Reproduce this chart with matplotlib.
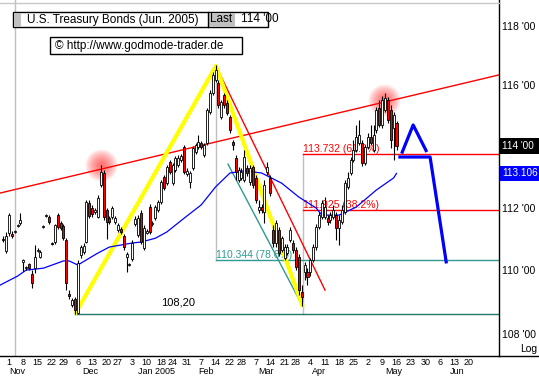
import numpy as np
import pandas as pd
import matplotlib
matplotlib.use("Agg")
import matplotlib.pyplot as plt
from matplotlib.patches import Rectangle
from matplotlib.ticker import NullLocator
from matplotlib import transforms

plt.rcParams['font.family'] = ['Liberation Sans', 'DejaVu Sans']

# trading calendar (CBOT holidays), day 0 = 1 Nov 2004
holidays = ['2004-11-25', '2004-12-24', '2005-01-17', '2005-02-21', '2005-03-25']
cal = pd.bdate_range('2004-10-25', '2005-07-01', freq='C', holidays=holidays)
day0 = cal.get_loc(pd.Timestamp('2004-11-01'))
def pos(d):
    return cal.get_loc(pd.Timestamp(d)) - day0

first_day = '2004-10-28'

# daily candles (T-Bond Jun 2005)
opens = [111.01, 110.62, 111.18, 111.15, 111.22, 111.41, 111.50, 110.27, 110.07, 110.20,
         109.88, 110.07, 110.62, 110.43, 111.38, 111.73, 111.70, 110.88, 110.90, 111.76,
         111.50, 111.41, 110.96, 109.26, 108.91, 109.10, 108.66, 110.49, 110.58, 110.90,
         112.15, 111.99, 111.86, 111.70, 112.73, 113.12, 111.93, 111.66, 111.70, 111.54,
         111.28, 111.31, 111.09, 110.43, 110.17, 110.36, 111.47, 111.12, 111.83, 110.71,
         111.18, 112.02, 111.47, 111.66, 111.93, 112.18, 112.99, 112.79, 113.48, 112.79,
         113.22, 113.38, 113.54, 113.97, 113.09, 112.83, 113.28, 113.81, 113.97, 114.10,
         113.71, 114.10, 115.12, 115.75, 116.18, 116.08, 114.96, 115.68, 115.42, 114.96,
         114.13, 113.61, 112.89, 112.96, 112.89, 113.28, 112.83, 113.32, 112.96, 111.93,
         112.02, 111.86, 113.15, 112.96, 111.28, 110.87, 111.28, 110.65, 110.40, 110.55,
         110.96, 110.87, 110.65, 110.43, 109.32, 109.95, 109.95, 109.95, 110.33, 110.74,
         111.38, 111.70, 111.70, 111.66, 111.60, 111.70, 111.76, 111.34, 111.54, 111.86,
         112.67, 113.12, 113.54, 113.87, 114.10, 114.10, 113.45, 113.97, 114.30, 113.87,
         114.53, 115.25, 114.69, 115.19, 115.52, 115.19, 114.59, 114.76]
highs = [111.09, 111.22, 111.83, 111.25, 111.28, 111.47, 111.83, 110.36, 110.14, 110.23,
         110.01, 110.81, 110.71, 110.65, 111.44, 111.80, 111.76, 110.90, 111.47, 111.83,
         111.57, 111.47, 111.02, 109.38, 109.13, 109.16, 110.33, 110.81, 110.87, 112.25,
         112.25, 112.09, 111.99, 112.41, 113.38, 113.22, 111.99, 111.73, 112.05, 111.73,
         111.50, 111.38, 111.15, 110.58, 110.23, 110.96, 111.73, 111.76, 111.93, 111.44,
         111.31, 112.12, 111.57, 112.09, 112.25, 112.89, 113.06, 113.38, 113.54, 113.45,
         113.67, 113.71, 113.74, 114.03, 113.28, 113.19, 114.00, 114.10, 114.36, 114.17,
         114.10, 115.25, 115.85, 116.45, 116.69, 116.18, 115.52, 115.75, 115.52, 115.02,
         114.20, 113.71, 113.32, 113.28, 113.87, 113.38, 113.38, 113.38, 113.06, 112.25,
         112.12, 112.89, 113.48, 113.06, 111.44, 111.60, 111.38, 111.09, 110.84, 110.84,
         111.38, 110.96, 110.74, 110.52, 109.54, 110.27, 110.07, 110.40, 110.84, 111.47,
         111.86, 112.25, 112.34, 111.76, 111.86, 112.09, 111.86, 111.76, 112.09, 112.89,
         113.15, 113.64, 114.20, 114.69, 114.86, 114.20, 114.03, 114.43, 114.69, 114.69,
         115.29, 115.52, 115.65, 115.75, 115.62, 115.35, 115.12, 114.82]
lows = [110.90, 110.55, 111.09, 111.02, 111.18, 111.38, 111.44, 109.98, 110.01, 110.01,
        109.44, 109.91, 110.58, 110.40, 111.34, 111.70, 111.47, 110.81, 110.84, 111.31,
        111.28, 110.96, 109.38, 109.10, 108.85, 108.63, 108.63, 110.40, 110.52, 110.87,
        111.66, 111.70, 111.80, 111.66, 112.67, 111.60, 110.99, 111.47, 111.63, 111.47,
        111.22, 111.15, 110.65, 109.95, 110.14, 110.30, 111.41, 111.05, 110.84, 110.65,
        111.15, 111.15, 111.41, 111.60, 111.86, 112.12, 112.57, 112.73, 113.09, 112.73,
        113.15, 113.32, 113.48, 113.09, 113.02, 112.63, 113.22, 113.74, 113.91, 113.91,
        113.64, 114.03, 115.05, 115.68, 116.12, 115.25, 114.89, 115.25, 115.02, 114.43,
        113.87, 112.89, 112.83, 112.89, 112.83, 113.02, 112.73, 112.63, 112.15, 111.83,
        111.83, 111.50, 113.06, 112.37, 110.74, 110.74, 110.46, 110.58, 110.33, 110.49,
        110.90, 110.55, 110.01, 109.22, 108.88, 109.70, 109.54, 109.82, 110.27, 110.65,
        111.31, 111.63, 111.63, 111.44, 111.50, 111.63, 110.96, 110.81, 111.47, 111.80,
        112.60, 113.06, 113.48, 113.81, 114.03, 113.35, 113.38, 113.91, 114.03, 113.81,
        114.43, 114.63, 114.59, 115.12, 114.76, 113.94, 113.54, 113.87]
closes = [110.98, 111.09, 111.76, 111.09, 111.25, 111.44, 111.60, 110.33, 110.10, 110.07,
          109.60, 110.43, 110.65, 110.58, 111.41, 111.76, 111.54, 110.85, 111.44, 111.38,
          111.34, 111.02, 109.60, 109.19, 109.07, 108.76, 110.23, 110.74, 110.78, 112.18,
          111.73, 111.80, 111.93, 112.31, 113.15, 111.70, 111.54, 111.54, 111.99, 111.66,
          111.44, 111.22, 110.74, 110.52, 110.19, 110.87, 111.63, 111.66, 110.90, 111.34,
          111.25, 111.22, 111.50, 112.02, 112.18, 112.83, 112.63, 113.32, 113.15, 113.38,
          113.61, 113.61, 113.67, 113.15, 113.19, 113.12, 113.94, 114.03, 114.13, 113.97,
          114.03, 115.19, 115.75, 116.35, 116.52, 115.35, 115.45, 115.35, 115.09, 114.53,
          114.03, 113.15, 113.22, 113.15, 113.64, 113.12, 113.28, 112.73, 112.25, 112.02,
          111.93, 112.73, 113.32, 112.47, 110.87, 111.50, 110.55, 111.02, 110.74, 110.74,
          111.28, 110.65, 110.10, 109.38, 109.16, 110.17, 109.79, 110.33, 110.74, 111.38,
          111.76, 112.15, 112.02, 111.54, 111.76, 111.93, 111.34, 111.60, 111.93, 112.79,
          112.96, 113.54, 113.87, 114.30, 114.36, 113.45, 113.97, 114.30, 114.10, 114.36,
          115.19, 114.69, 115.52, 115.58, 114.86, 114.20, 115.02, 114.00]

# moving average (blue), read at trading-day positions
ma_pos = [-3, 3, 6, 12, 19, 21, 24, 31, 35, 43, 46, 51, 55, 61, 67, 72, 77, 82,
          88, 95, 101, 107, 109, 115, 121, 128, 134, 135]
ma_val = [109.54, 109.82, 110.01, 110.07, 110.30, 110.30, 110.17, 110.55, 110.74,
          110.87, 110.90, 111.02, 111.22, 111.66, 112.09, 112.67, 113.12, 113.19,
          113.12, 112.79, 112.34, 111.99, 111.76, 111.76, 112.02, 112.57, 112.96, 113.106]

# drawn lines: (day, price)
yellow_pts = [(23, 108.625), (72.1, 116.65), (102.4, 108.85)]
trend_up = [(-3.1, 112.47), (170.7, 116.35)]
trend_down = [(72.1, 116.65), (110.1, 109.38)]
teal_diag = [(76.3, 113.41), (102.1, 108.91)]
proj_a = [(137.0, 113.80), (140.8, 114.69), (145.3, 113.85)]
proj_b = [(136.2, 113.64), (146.7, 113.64), (152.3, 110.27)]
glows = [(32, 113.38), (130.7, 115.52)]

fib_hi, fib_lo = 113.732, 111.925
fib_78 = 110.344
low_dec = 108.625
last_price, ma_last = 114.0, 113.106

week_dates = ['2004-11-01', '2004-11-08', '2004-11-15', '2004-11-22', '2004-11-29',
              '2004-12-06', '2004-12-13', '2004-12-20', '2004-12-27',
              '2005-01-03', '2005-01-10', '2005-01-18', '2005-01-24', '2005-01-31',
              '2005-02-07', '2005-02-14', '2005-02-22', '2005-02-28',
              '2005-03-07', '2005-03-14', '2005-03-21', '2005-03-28',
              '2005-04-04', '2005-04-11', '2005-04-18', '2005-04-25',
              '2005-05-02', '2005-05-09', '2005-05-16', '2005-05-23', '2005-05-30',
              '2005-06-06', '2005-06-13', '2005-06-20']
month_names = ['Nov', 'Dec', 'Jan 2005', 'Feb', 'Mar', 'Apr', 'May', 'Jun']
month_pos = [0, 25.4, 45, 66, 86.8, 105.6, 131, 153.7]
ytick_vals = [108, 110, 112, 116, 118]

fig = plt.figure(figsize=(5.39, 3.78), dpi=100)
ax = fig.add_axes([0, 22 / 378, 499 / 539, 356 / 378])
ax.set_yscale('log')
ax.set_ylim(107.33, 118.88)
ax.set_xlim(-3.1, 170.7)
ax.yaxis.set_minor_locator(NullLocator())
ax.xaxis.set_minor_locator(NullLocator())
for s in ['top', 'left']:
    ax.spines[s].set_visible(False)
for s in ['right', 'bottom']:
    ax.spines[s].set_color('black')
    ax.spines[s].set_linewidth(1)

# gray helper lines
ax.axvline(2.1, color='#c0c0c0', lw=1, zorder=1)
ax.plot([72.1, 72.1], [116.18, fib_78], color='#c0c0c0', lw=1, zorder=1)
ax.plot([102.4, 102.4], [fib_hi, low_dec], color='#c0c0c0', lw=1, zorder=1)

# glow markers
for gx, gy in glows:
    for k in range(12):
        r = 16 * (1 - k / 12)
        ax.scatter([gx], [gy], s=(2 * r * 0.72) ** 2, color='#ff3030', alpha=0.09,
                   linewidths=0, zorder=1)

# horizontal levels
ax.plot([23, 170.7], [low_dec, low_dec], color='#1f7a6a', lw=1, zorder=2)
ax.plot([72.1, 170.7], [fib_78, fib_78], color='#2e9a92', lw=1, zorder=2)
ax.plot([102.4, 170.7], [fib_hi, fib_hi], color='red', lw=1, zorder=2)
ax.plot([102.4, 170.7], [fib_lo, fib_lo], color='red', lw=1, zorder=2)

ax.text(102.6, fib_hi, '113.732 (61.8%)', color='red', fontsize=7.5, va='bottom', zorder=2)
ax.text(102.6, fib_lo, '111.925 (38.2%)', color='red', fontsize=7.5, va='bottom', zorder=2)
ax.text(72.3, fib_78, '110.344 (78.6%)', color='#2e9a92', fontsize=7.5, va='bottom', zorder=2)
ax.annotate('108,20', (53, low_dec), xytext=(0, 5), textcoords='offset points',
            fontsize=8, va='bottom', ha='left', zorder=2)

# trend lines
ax.plot(*zip(*trend_up), color='red', lw=1, zorder=2)
ax.plot(*zip(*trend_down), color='red', lw=1, zorder=2)
ax.plot(*zip(*teal_diag), color='#2e9a92', lw=1, zorder=2)
ax.plot(*zip(*yellow_pts), color='#ffff00', lw=3, zorder=2, solid_capstyle='butt')

# moving average
ax.plot(ma_pos, ma_val, color='#0000ff', lw=0.9, zorder=2)

# candles
start = pos(first_day)
xs = np.arange(start, start + len(closes))
o = np.array(opens); c = np.array(closes)
ax.vlines(xs, lows, highs, color='black', lw=0.8, zorder=3)
bottom = np.minimum(o, c)
height = np.maximum(np.abs(c - o), 0.02)
fills = ['white' if cc >= oo else '#ff0000' for oo, cc in zip(o, c)]
ax.bar(xs, height, bottom=bottom, width=0.7, color=fills, edgecolor='black',
       linewidth=0.6, zorder=4)

# projection
ax.plot(*zip(*proj_a), color='#0000ff', lw=2.3, zorder=5)
ax.plot(*zip(*proj_b), color='#0000ff', lw=2.3, zorder=5)

# y axis on the right
ax.yaxis.tick_right()
ax.set_yticks(ytick_vals)
ax.set_yticklabels([f"{v} '00" for v in ytick_vals])
ax.tick_params(axis='y', length=0, pad=2, labelsize=7.5)
ax.set_xticks([])
yblend = transforms.blended_transform_factory(ax.transAxes, ax.transData)
for val, txt, col in [(last_price, "114 '00", 'black'), (ma_last, '113.106', '#0000ff')]:
    ax.add_patch(Rectangle((1.002, val * 0.9978), 0.1, val * 0.0044, transform=yblend,
                           fc=col, ec='none', clip_on=False, zorder=6))
    ax.text(1.006, val, txt, transform=yblend, color='white', fontsize=7.2,
            va='center', ha='left', clip_on=False, zorder=7)

# date labels
xblend = transforms.blended_transform_factory(ax.transData, ax.transAxes)
for d in week_dates:
    ax.text(pos(d), -6.5 / 356, str(pd.Timestamp(d).day), transform=xblend,
            fontsize=6.5, ha='center', va='center', clip_on=False)
for name, mp in zip(month_names, month_pos):
    ax.text(mp, -15.5 / 356, name, transform=xblend, fontsize=6.5,
            ha='left', va='center', clip_on=False)

# overlay in pixel coordinates for the boxes
ov = fig.add_axes([0, 0, 1, 1], zorder=10)
ov.set_xlim(0, 539)
ov.set_ylim(378, 0)
ov.axis('off')
ov.patch.set_alpha(0)
ov.plot([0, 499], [3, 3], color='#c8c8c8', lw=1)
ov.plot([499, 539], [356, 356], color='black', lw=1)
ov.add_patch(Rectangle((13, 12), 255, 15, fc='white', ec='black', lw=1))
ov.add_patch(Rectangle((13.5, 12.5), 7, 14, fc='#c0c0c0', ec='none'))
ov.add_patch(Rectangle((208, 12.5), 27, 14, fc='#c0c0c0', ec='none'))
ov.plot([208, 208], [12, 27], color='black', lw=1)
ov.text(27, 19.5, 'U.S. Treasury Bonds (Jun. 2005)', fontsize=8.5, va='center')
ov.text(210, 19.5, 'Last', fontsize=8.5, va='center')
ov.text(241, 19.5, "114 '00", fontsize=8.5, va='center')
ov.add_patch(Rectangle((50, 37), 192, 17, fc='white', ec='black', lw=1))
ov.text(55, 45.5, '\u00a9 http://www.godmode-trader.de', fontsize=8.5, va='center')
ov.text(520, 349, 'Log', fontsize=7.5, va='center')

fig.savefig('out.png', dpi=100)
